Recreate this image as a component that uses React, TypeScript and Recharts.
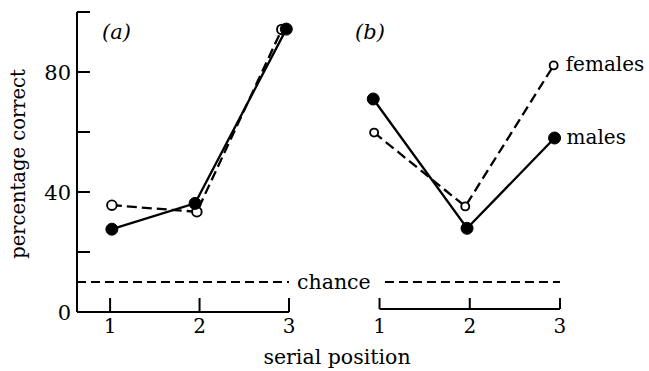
import React from 'react';
import { Label, LabelList, Line, LineChart, ReferenceLine, XAxis, YAxis } from 'recharts';

const serif = '"DejaVu Serif", "Liberation Serif", serif';

// serial positions and y ticks
const positions = [1, 2, 3];
const yTicks = [0, 20, 40, 60, 80, 100];
const yLabels = [0, 40, 80];
const chance = 10;

// panel (a)
const aMalesX = [1.02, 1.95, 2.97];
const aMalesY = [27.6, 36.2, 94.3];
const aFemalesX = [1.02, 1.97, 2.92];
const aFemalesY = [35.6, 33.4, 94.2];

// panel (b)
const bMalesX = [0.93, 1.97, 2.94];
const bMalesY = [71, 27.9, 58];
const bFemalesX = [0.94, 1.95, 2.93];
const bFemalesY = [59.8, 35.2, 82.2];

const toPoints = (xs: number[], ys: number[]) => xs.map((x, i) => ({ x, y: ys[i] }));

const YTick = (props: any) => {
  const { x, y, payload } = props;
  const v = payload.value;
  return (
    <g>
      <line x1={x} x2={x + 13} y1={y} y2={y} stroke="#000" strokeWidth={2} />
      {yLabels.includes(v) && (
        <text x={x - 6} y={y} dy="0.36em" textAnchor="end" fontSize={21} fontFamily={serif} fill="#000">
          {v}
        </text>
      )}
    </g>
  );
};

const makeXTick = (from: number, to: number) => (props: any) => {
  const { x, y, payload } = props;
  return (
    <g>
      <line x1={x} x2={x} y1={y - from} y2={y - to} stroke="#000" strokeWidth={2} />
      <text x={x} y={y + 21} textAnchor="middle" fontSize={20} fontFamily={serif} fill="#000">
        {payload.value}
      </text>
    </g>
  );
};

const renderYLabel = (props: any) => {
  const vb = props.viewBox;
  const cx = vb.x + 25;
  const cy = vb.y + vb.height / 2 + 2;
  return (
    <text x={cx} y={cy} transform={`rotate(-90 ${cx} ${cy})`} textAnchor="middle" fontSize={19.5} fontFamily={serif} fill="#000">
      percentage correct
    </text>
  );
};

const renderXLabel = (props: any) => {
  const vb = props.viewBox;
  return (
    <text x={vb.x + vb.width + 48} y={vb.y + 52} textAnchor="middle" fontSize={20.5} fontFamily={serif} fill="#000">
      serial position
    </text>
  );
};

const endLabel = (text: string) => (props: any) => {
  if (props.index !== 2) return null;
  return (
    <text x={props.x + 12} y={props.y} dy="0.3em" fontSize={20} fontFamily={serif} fill="#000">
      {text}
    </text>
  );
};

const maleDot = { r: 6, fill: '#000', stroke: '#000', strokeWidth: 1 };

export default function App() {
  return (
    <div style={{ position: 'absolute', left: 0, top: 0, width: 649, height: 371, background: '#fff' }}>
      <div style={{ position: 'absolute', left: 0, top: 0 }}>
        <LineChart width={649} height={371} margin={{ top: 12, right: 360, bottom: 19, left: 0 }}>
          <XAxis
            type="number"
            dataKey="x"
            domain={[0.63, 3]}
            ticks={positions}
            height={40}
            axisLine={{ stroke: '#000', strokeWidth: 2 }}
            tickLine={false}
            tickSize={0}
            tickMargin={0}
            tick={makeXTick(0, 14)}
          >
            <Label value="serial position" content={renderXLabel} />
          </XAxis>
          <YAxis
            type="number"
            domain={[0, 100]}
            ticks={yTicks}
            width={77}
            axisLine={{ stroke: '#000', strokeWidth: 2 }}
            tickLine={false}
            tickSize={0}
            tickMargin={0}
            tick={<YTick />}
            label={{ value: 'percentage correct', content: renderYLabel }}
          />
          <ReferenceLine
            y={chance}
            stroke="#000"
            strokeWidth={2}
            strokeDasharray="9 5"
            label={{ value: 'chance', position: 'right', offset: 8, fill: '#000', fontSize: 20.5, fontFamily: serif }}
          />
          <Line
            data={toPoints(aFemalesX, aFemalesY)}
            dataKey="y"
            type="linear"
            stroke="#000"
            strokeWidth={2.3}
            strokeDasharray="10 5"
            dot={{ r: 4.8, fill: '#fff', stroke: '#000', strokeWidth: 1.9, strokeDasharray: 'none' }}
            activeDot={false}
            isAnimationActive={false}
          />
          <Line
            data={toPoints(aMalesX, aMalesY)}
            dataKey="y"
            type="linear"
            stroke="#000"
            strokeWidth={2.3}
            dot={maleDot}
            activeDot={false}
            isAnimationActive={false}
          />
        </LineChart>
      </div>
      <div style={{ position: 'absolute', left: 0, top: 0 }}>
        <LineChart width={649} height={371} margin={{ top: 12, right: 84.5, bottom: 19, left: 366 }}>
          <XAxis
            type="number"
            dataKey="x"
            domain={[0.85, 3.05]}
            ticks={positions}
            height={40}
            axisLine={false}
            tickLine={false}
            tickSize={0}
            tickMargin={0}
            tick={makeXTick(3, 14)}
          />
          <YAxis type="number" domain={[0, 100]} hide />
          <ReferenceLine
            segment={[{ x: 1, y: 1 }, { x: 3, y: 1 }]}
            stroke="#000"
            strokeWidth={2}
          />
          <ReferenceLine
            segment={[{ x: 1.06, y: chance }, { x: 3, y: chance }]}
            stroke="#000"
            strokeWidth={2}
            strokeDasharray="9 5"
          />
          <Line
            data={toPoints(bFemalesX, bFemalesY)}
            dataKey="y"
            type="linear"
            stroke="#000"
            strokeWidth={2.3}
            strokeDasharray="10 5"
            dot={{ r: 4, fill: '#fff', stroke: '#000', strokeWidth: 1.9, strokeDasharray: 'none' }}
            activeDot={false}
            isAnimationActive={false}
          >
            <LabelList dataKey="y" content={endLabel('females')} />
          </Line>
          <Line
            data={toPoints(bMalesX, bMalesY)}
            dataKey="y"
            type="linear"
            stroke="#000"
            strokeWidth={2.3}
            dot={maleDot}
            activeDot={false}
            isAnimationActive={false}
          >
            <LabelList dataKey="y" content={endLabel('males')} />
          </Line>
        </LineChart>
      </div>
      <div style={{ position: 'absolute', left: 102, top: 19, fontFamily: serif, fontStyle: 'italic', fontSize: 21, lineHeight: '26px' }}>
        (a)
      </div>
      <div style={{ position: 'absolute', left: 355, top: 19, fontFamily: serif, fontStyle: 'italic', fontSize: 21, lineHeight: '26px' }}>
        (b)
      </div>
    </div>
  );
}
